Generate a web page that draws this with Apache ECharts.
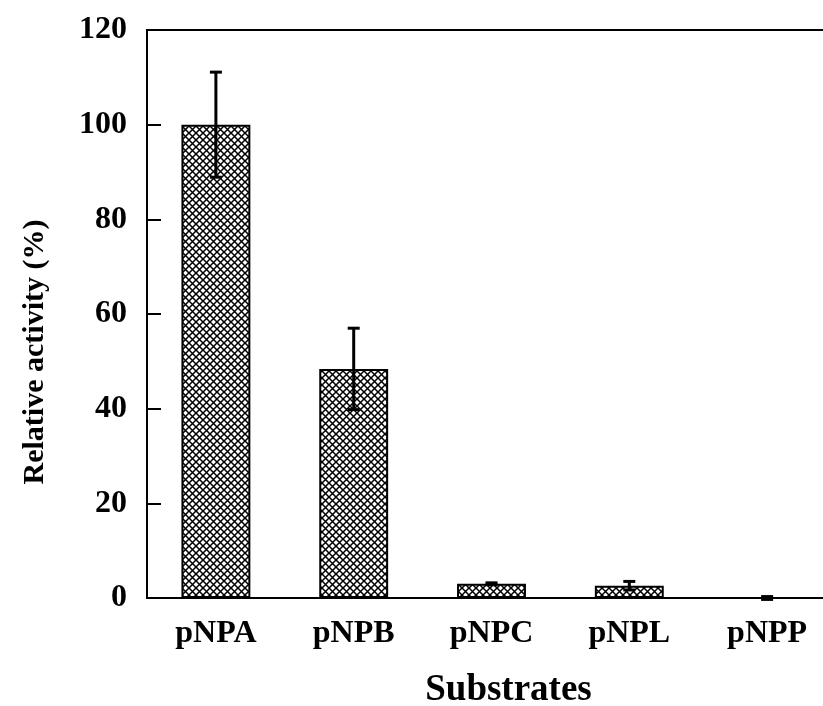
<!DOCTYPE html>
<html>
<head>
<meta charset="utf-8">
<script src="https://cdn.jsdelivr.net/npm/echarts@6/dist/echarts.min.js"></script>
<style>
html,body{margin:0;padding:0;background:#fff;}
#chart{width:823px;height:706px;}
</style>
</head>
<body>
<div id="chart"></div>
<script>
const categories = ['pNPA', 'pNPB', 'pNPC', 'pNPL', 'pNPP'];
const activity = [100, 48.4, 3.0, 2.6, 0.0];
const errors = [11.1, 8.6, 0.2, 0.9, 0.3];
const yTicks = [0, 20, 40, 60, 80, 100, 120];

const FONT = "'Liberation Serif', 'Times New Roman', serif";

// cross-hatch pattern
const T = 7;
const tile = document.createElement('canvas');
tile.width = T; tile.height = T;
const ctx = tile.getContext('2d');
ctx.fillStyle = '#fff';
ctx.fillRect(0, 0, T, T);
ctx.strokeStyle = '#000';
ctx.lineWidth = 1.5;
ctx.beginPath();
ctx.moveTo(-1, -1); ctx.lineTo(T + 1, T + 1);
ctx.moveTo(T + 1, -1); ctx.lineTo(-1, T + 1);
ctx.stroke();

const chart = echarts.init(document.getElementById('chart'), null, {renderer: 'canvas'});

const errData = categories.map((c, i) => [i, activity[i] - errors[i], activity[i] + errors[i]]);

chart.setOption({
  backgroundColor: '#fff',
  animation: false,
  grid: {
    left: 147, top: 30, width: 689, height: 568,
    outerBoundsMode: 'none',
    containLabel: false,
    show: true, borderColor: '#000', borderWidth: 2, backgroundColor: 'transparent'
  },
  xAxis: {
    type: 'category',
    data: categories,
    name: 'Substrates',
    nameLocation: 'middle',
    nameGap: 74,
    nameTextStyle: {fontFamily: FONT, fontWeight: 'bold', fontSize: 37, color: '#000', padding: [0, 0, 0, 34]},
    axisLine: {lineStyle: {color: '#000', width: 2}},
    axisTick: {inside: true, length: 13, lineStyle: {color: '#000', width: 2}},
    axisLabel: {fontFamily: FONT, fontWeight: 'bold', fontSize: 32, color: '#000', margin: 20}
  },
  yAxis: {
    type: 'value',
    min: yTicks[0], max: yTicks[yTicks.length - 1], interval: 20,
    name: 'Relative activity (%)',
    nameLocation: 'middle',
    nameGap: 97,
    nameRotate: 90,
    nameTextStyle: {fontFamily: FONT, fontWeight: 'bold', fontSize: 30, color: '#000', padding: [0, 76, 0, 0]},
    axisLine: {show: true, lineStyle: {color: '#000', width: 2}},
    axisTick: {show: true, inside: true, length: 14, lineStyle: {color: '#000', width: 2}},
    splitLine: {show: false},
    axisLabel: {fontFamily: FONT, fontWeight: 'bold', fontSize: 32, color: '#000', margin: 20}
  },
  series: [
    {
      type: 'bar',
      data: activity,
      barWidth: '50%',
      itemStyle: {
        color: {image: tile, repeat: 'repeat'},
        borderColor: '#000',
        borderWidth: 2
      },
      z: 2
    },
    {
      type: 'custom',
      data: errData,
      z: 3,
      renderItem: function (params, api) {
        const lo = api.coord([api.value(0), api.value(1)]);
        const hi = api.coord([api.value(0), api.value(2)]);
        const hw = 6;
        const style = {stroke: '#000', lineWidth: 3, fill: null};
        return {
          type: 'group',
          children: [
            {type: 'line', shape: {x1: hi[0], y1: hi[1], x2: lo[0], y2: lo[1]}, style: style},
            {type: 'line', shape: {x1: hi[0] - hw, y1: hi[1], x2: hi[0] + hw, y2: hi[1]}, style: style},
            {type: 'line', shape: {x1: lo[0] - hw, y1: lo[1], x2: lo[0] + hw, y2: lo[1]}, style: style}
          ]
        };
      }
    }
  ]
});
</script>
</body>
</html>
